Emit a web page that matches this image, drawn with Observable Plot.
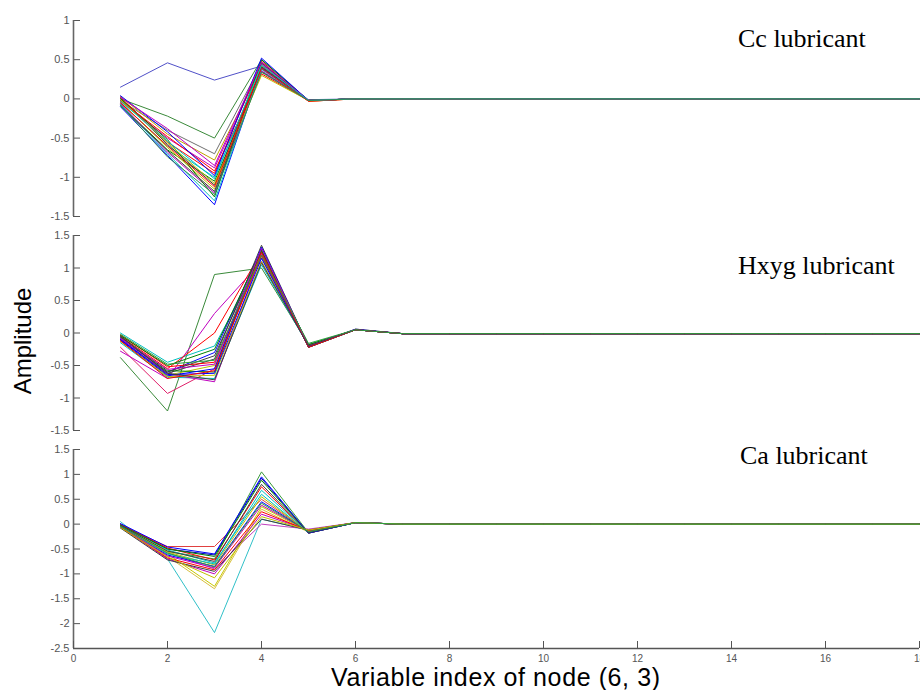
<!DOCTYPE html>
<html>
<head>
<meta charset="utf-8">
<script src="https://cdn.jsdelivr.net/npm/d3@7"></script>
<script src="https://cdn.jsdelivr.net/npm/@observablehq/plot@0.6"></script>
<style>
  html, body { margin: 0; padding: 0; background: #fff; }
  #chart { position: relative; width: 920px; height: 690px; overflow: hidden; font-family: "Liberation Sans", Arial, sans-serif; }
  #chart svg { position: absolute; left: 0; overflow: visible; }
  .lbl { position: absolute; white-space: nowrap; color: #000; }
  .panel { font-family: "Liberation Serif", "Times New Roman", serif; font-size: 26px; line-height: 1; }
</style>
</head>
<body>
<div id="chart"></div>
<script>
// x positions 1..18 (variable index)
const xIndex = [1, 2, 3, 4, 5, 6, 7, 8, 9, 10, 11, 12, 13, 14, 15, 16, 17, 18];

// Cc lubricant: values at x = 1..6 per sample
const ccHeads = [
  [0.15, 0.46, 0.24, 0.42, -0.01, 0.00],
  [0.00, -0.22, -0.50, 0.50, -0.02, 0.00],
  [-0.02, -0.40, -0.70, 0.45, -0.02, 0.00],
  [0.03, -0.45, -0.78, 0.40, -0.02, 0.00],
  [-0.03, -0.50, -0.88, 0.44, -0.02, 0.00],
  [0.02, -0.55, -0.95, 0.48, -0.03, 0.00],
  [-0.05, -0.60, -1.00, 0.38, -0.02, 0.00],
  [-0.08, -0.65, -1.05, 0.35, -0.02, 0.00],
  [-0.10, -0.72, -1.35, 0.40, -0.02, 0.00],
  [0.01, -0.58, -1.10, 0.46, -0.02, 0.00],
  [-0.04, -0.62, -1.15, 0.42, -0.03, 0.00],
  [-0.06, -0.68, -1.20, 0.36, -0.02, 0.00],
  [0.00, -0.52, -1.25, 0.50, -0.02, 0.00],
  [-0.02, -0.48, -0.92, 0.32, -0.02, 0.00],
  [-0.07, -0.70, -1.30, 0.38, -0.02, 0.00],
  [0.04, -0.42, -0.98, 0.52, -0.02, 0.00],
  [-0.01, -0.56, -1.08, 0.30, -0.02, 0.00],
  [-0.09, -0.66, -1.18, 0.41, -0.02, 0.00],
  [0.02, -0.38, -0.85, 0.47, -0.02, 0.00],
  [-0.05, -0.60, -1.12, 0.39, -0.03, 0.00],
  [-0.03, -0.54, -1.02, 0.43, -0.02, 0.00],
  [-0.08, -0.74, -1.22, 0.34, -0.02, 0.00]
];
// values at x = 7..18 (flat)
const ccTail = [0, 0, 0, 0, 0, 0, 0, 0, 0, 0, 0, 0];

// Hxyg lubricant
const hxHeads = [
  [-0.38, -1.20, 0.90, 1.00, -0.18, 0.05],
  [-0.22, -0.93, -0.55, 1.20, -0.20, 0.05],
  [-0.28, -0.70, 0.30, 1.10, -0.20, 0.05],
  [0.00, -0.45, -0.20, 1.15, -0.18, 0.05],
  [-0.05, -0.55, 0.00, 1.25, -0.20, 0.05],
  [-0.08, -0.60, -0.30, 1.30, -0.22, 0.05],
  [-0.10, -0.62, -0.40, 1.35, -0.20, 0.05],
  [-0.12, -0.65, -0.50, 1.20, -0.20, 0.06],
  [-0.06, -0.58, -0.60, 1.28, -0.22, 0.05],
  [-0.15, -0.68, -0.70, 1.05, -0.20, 0.05],
  [-0.09, -0.63, -0.75, 1.22, -0.21, 0.05],
  [-0.03, -0.52, -0.45, 1.18, -0.19, 0.05],
  [-0.11, -0.66, -0.55, 1.32, -0.20, 0.05],
  [-0.07, -0.60, -0.35, 1.25, -0.22, 0.05],
  [-0.13, -0.67, -0.65, 1.10, -0.20, 0.05],
  [-0.04, -0.50, -0.25, 1.27, -0.18, 0.05],
  [-0.10, -0.64, -0.62, 1.15, -0.21, 0.06],
  [-0.08, -0.56, -0.48, 1.30, -0.20, 0.05],
  [-0.12, -0.70, -0.58, 1.24, -0.22, 0.05],
  [-0.05, -0.62, -0.72, 1.08, -0.20, 0.05],
  [-0.02, -0.48, -0.42, 1.20, -0.16, 0.05]
];
const hxTail = [-0.01, -0.01, -0.01, -0.01, -0.01, -0.01, -0.01, -0.01, -0.01, -0.01, -0.01, -0.01];

// Ca lubricant
const caHeads = [
  [0.05, -0.70, -2.18, 0.10, -0.12, 0.03],
  [-0.02, -0.45, -0.45, 0.50, -0.15, 0.03],
  [0.00, -0.50, -0.62, 0.92, -0.18, 0.03],
  [-0.03, -0.55, -0.70, 1.05, -0.17, 0.03],
  [-0.05, -0.60, -1.25, 0.35, -0.15, 0.03],
  [-0.04, -0.65, -1.30, 0.30, -0.16, 0.03],
  [-0.06, -0.70, -1.00, 0.20, -0.12, 0.03],
  [-0.02, -0.58, -0.90, 0.00, -0.10, 0.03],
  [0.00, -0.52, -0.78, 0.60, -0.17, 0.03],
  [-0.01, -0.48, -0.72, 0.75, -0.18, 0.03],
  [-0.07, -0.62, -0.85, 0.45, -0.15, 0.03],
  [-0.08, -0.72, -0.95, 0.10, -0.12, 0.03],
  [-0.03, -0.56, -0.82, 0.55, -0.16, 0.03],
  [-0.02, -0.50, -0.65, 0.88, -0.18, 0.03],
  [-0.05, -0.64, -0.88, 0.38, -0.14, 0.03],
  [-0.04, -0.60, -0.80, 0.68, -0.17, 0.03],
  [-0.06, -0.68, -0.92, 0.25, -0.13, 0.03],
  [0.01, -0.46, -0.60, 0.95, -0.18, 0.03],
  [-0.03, -0.54, -0.75, 0.80, -0.17, 0.03],
  [-0.07, -0.66, -1.08, 0.15, -0.12, 0.03],
  [-0.05, -0.58, -0.86, 0.42, -0.15, 0.03]
];
const caTail = [0, 0, 0, 0, 0, 0, 0, 0, 0, 0, 0, 0];

const ccSeriesColors = ["#5050c8", "#3a8a3a", "#707070", "#c0a000", "#bf00bf", "#ff0000", "#00bfbf", "#008000", "#0000ff", "#404040", "#bfbf00", "#bf00bf", "#008000", "#ff0000", "#00bfbf", "#0000ff", "#bfbf00", "#404040", "#bf00bf", "#ff0000", "#00bfbf", "#2e8b57"];
const hxSeriesColors = ["#3a8a3a", "#e0206a", "#bf00bf", "#00bfbf", "#ff0000", "#0000ff", "#404040", "#bfbf00", "#008000", "#00bfbf", "#bf00bf", "#ff0000", "#0000ff", "#404040", "#bfbf00", "#008000", "#0000ff", "#bf00bf", "#ff0000", "#404040", "#2e9e3e"];
const caSeriesColors = ["#30c0c8", "#e04040", "#0000aa", "#3a9a3a", "#c8c800", "#d8c040", "#bf00bf", "#c040c0", "#00bfbf", "#ff0000", "#0000ff", "#404040", "#bfbf00", "#008000", "#bf00bf", "#00bfbf", "#ff0000", "#0000ff", "#404040", "#bfbf00", "#2e9e3e"];

const xTicks = [0, 2, 4, 6, 8, 10, 12, 14, 16, 18];
const ccYTicks = [-1.5, -1, -0.5, 0, 0.5, 1];
const hxYTicks = [-1.5, -1, -0.5, 0, 0.5, 1, 1.5];
const caYTicks = [-2.5, -2, -1.5, -1, -0.5, 0, 0.5, 1, 1.5];

function rowsOf(heads, tail) {
  const rows = [];
  heads.forEach((h, s) => {
    const vals = h.concat(tail);
    vals.forEach((v, j) => rows.push({series: s, x: xIndex[j], y: v}));
  });
  return rows;
}

const chart = document.getElementById("chart");

function panel({heads, tail, colors, yDomain, yTicks, top, height, marginTop, marginBottom, showX}) {
  const rows = rowsOf(heads, tail);
  const marks = [
    Plot.lineY(rows, {x: "x", y: "y", z: "series", stroke: d => colors[d.series], strokeWidth: 1}),
    Plot.axisY({ticks: yTicks, tickSize: -7, tickPadding: 11, tickFormat: d => String(d), fontSize: 11, color: "#555", label: null}),
    Plot.ruleX([0], {stroke: "#666", strokeWidth: 1.6})
  ];
  if (showX) {
    marks.push(Plot.ruleY([yDomain[0]], {stroke: "#555", strokeWidth: 1.6}));
    marks.push(Plot.axisX({ticks: xTicks, tickSize: -7, tickPadding: 13, tickFormat: d => String(d), fontSize: 10, color: "#555", label: null}));
  } else {
    marks.push(Plot.axisX({ticks: [], label: null}));
  }
  const svg = Plot.plot({
    width: 920, height, marginLeft: 73, marginRight: 1, marginTop, marginBottom,
    style: {fontFamily: "'Liberation Sans', Arial, sans-serif", background: "transparent"},
    x: {domain: [0, 18]},
    y: {domain: yDomain},
    marks
  });
  svg.style.top = top + "px";
  chart.appendChild(svg);
}

panel({heads: ccHeads, tail: ccTail, colors: ccSeriesColors, yDomain: [-1.5, 1], yTicks: ccYTicks, top: 0, height: 222, marginTop: 20, marginBottom: 6, showX: false});
panel({heads: hxHeads, tail: hxTail, colors: hxSeriesColors, yDomain: [-1.5, 1.5], yTicks: hxYTicks, top: 222, height: 214, marginTop: 13, marginBottom: 6, showX: false});
panel({heads: caHeads, tail: caTail, colors: caSeriesColors, yDomain: [-2.5, 1.5], yTicks: caYTicks, top: 436, height: 254, marginTop: 13, marginBottom: 42, showX: true});

function addLabel(text, cls, css) {
  const d = document.createElement("div");
  d.className = "lbl " + cls;
  d.textContent = text;
  Object.assign(d.style, css);
  chart.appendChild(d);
  return d;
}
addLabel("Cc lubricant", "panel", {left: "738px", top: "26px"});
addLabel("Hxyg lubricant", "panel", {left: "738px", top: "253px"});
addLabel("Ca lubricant", "panel", {left: "740px", top: "443px"});
addLabel("Variable index of node (6, 3)", "", {left: "331px", top: "665px", fontSize: "25px", letterSpacing: "0.6px", lineHeight: "1"});
addLabel("Amplitude", "", {left: "23px", top: "341px", fontSize: "24px", lineHeight: "1", transform: "translate(-50%, -50%) rotate(-90deg)"});
</script>
</body>
</html>
